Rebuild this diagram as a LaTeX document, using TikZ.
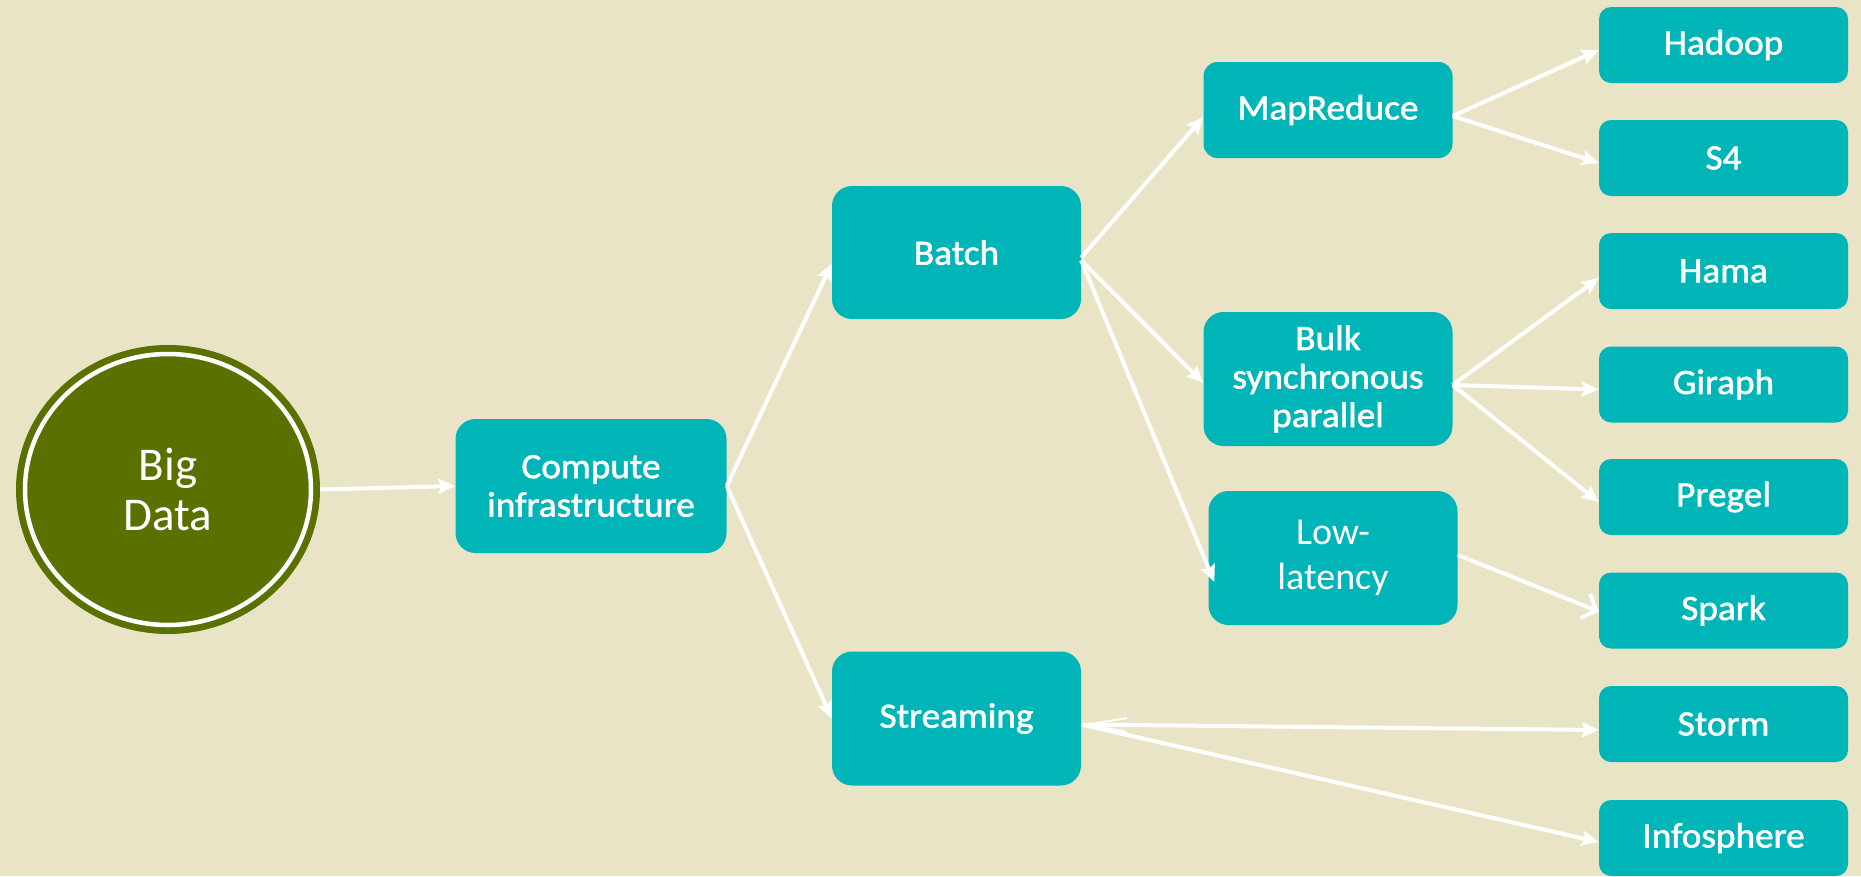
\documentclass[tikz,border=0pt]{standalone}
\usepackage{fontspec}
\setmainfont{Carlito}
\newfontfamily\semibfont{Carlito}[FakeBold=1.6, FakeStretch=1.05]
\usetikzlibrary{arrows.meta,calc,shapes.geometric}
\definecolor{bgc}{HTML}{E9E4C5}
\definecolor{tealc}{HTML}{00B5B8}
\definecolor{olivec}{HTML}{5A7100}
\begin{document}
\begin{tikzpicture}[x=1pt,y=-1pt,
  box/.style={fill=tealc, rounded corners=#1, text=white, align=center, inner sep=0pt,
    minimum width=249pt, font=\semibfont\fontsize{35.5}{38.5}\selectfont},
  box/.default=18pt,
  bigbox/.style={box=20pt, minimum height=134pt},
  small/.style={box=12pt, minimum height=76pt},
  arr/.style={white, line width=4pt, -{Stealth[length=17pt,width=15pt,inset=3pt]}},
  barb/.style={white, line width=4pt, -{Straight Barb[length=12pt,width=26pt]}}]
\path[fill=bgc] (0,0) rectangle (1861,876);
% root
\node[ellipse, fill=olivec, minimum width=304pt, minimum height=289pt, inner sep=0pt,
  text=white, align=center, font=\fontsize{47}{50}\selectfont] (bigdata) at (168,489.5) {Big\\Data};
\draw[white, line width=4.5pt] (bigdata.center) ellipse [x radius=143pt, y radius=135.5pt];
% level 1-2
\node[bigbox, minimum width=271pt] (compute) at (591,486) {Compute\\infrastructure};
\node[bigbox, minimum height=133pt] (batch) at (956.5,252.5) {Batch};
\node[bigbox] (stream) at (956.5,718.5) {Streaming};
% level 3
\node[box=14pt, minimum height=96pt] (mapred) at (1328,110) {MapReduce};
\node[bigbox] (bulk) at (1328,379) {Bulk\\synchronous\\parallel};
\node[bigbox, font=\normalfont\fontsize{38}{45}\selectfont] (low) at (1333,558) {Low-\\latency};
% level 4
\node[small] (hadoop) at (1723.5,45) {Hadoop};
\node[small] (s4) at (1723.5,158) {S4};
\node[small] (hama) at (1723.5,271) {Hama};
\node[small] (giraph) at (1723.5,384.5) {Giraph};
\node[small] (pregel) at (1723.5,497) {Pregel};
\node[small] (spark) at (1723.5,610.5) {Spark};
\node[small] (storm) at (1723.5,724) {Storm};
\node[small] (info) at (1723.5,838) {Infosphere};
% connectors
\draw[arr] (bigdata.east) -- (compute.west);
\draw[arr] (compute.east) -- ($(batch.west)+(0,11)$);
\draw[arr] (compute.east) -- (stream.west);
\draw[arr] ($(batch.east)+(0,5)$) -- ($(mapred.west)+(0,7)$);
\draw[arr] ($(batch.east)+(0,8)$) -- ($(bulk.west)+(0,4)$);
\draw[arr] ($(batch.east)+(0,8)$) -- ($(low.west)+(6,24)$);
\draw[arr] ($(mapred.east)+(0,6)$) -- ($(hadoop.west)+(0,5)$);
\draw[arr] ($(mapred.east)+(0,6)$) -- ($(s4.west)+(0,5)$);
\draw[arr] ($(bulk.east)+(0,6)$) -- ($(hama.west)+(0,7)$);
\draw[arr] ($(bulk.east)+(0,6)$) -- ($(giraph.west)+(0,5)$);
\draw[arr] ($(bulk.east)+(0,6)$) -- ($(pregel.west)+(0,5)$);
\draw[barb] ($(low.east)+(0,-3)$) -- ($(spark.west)+(0,1)$);
\draw[white, line width=4pt, {Straight Barb[length=40pt,width=14pt,line width=2pt]}-{Stealth[length=17pt,width=15pt,inset=3pt]}]
  ($(stream.east)+(0,6)$) -- ($(storm.west)+(0,6)$);
\draw[arr] ($(stream.east)+(0,6)$) -- ($(info.west)+(0,4)$);
\end{tikzpicture}
\end{document}
